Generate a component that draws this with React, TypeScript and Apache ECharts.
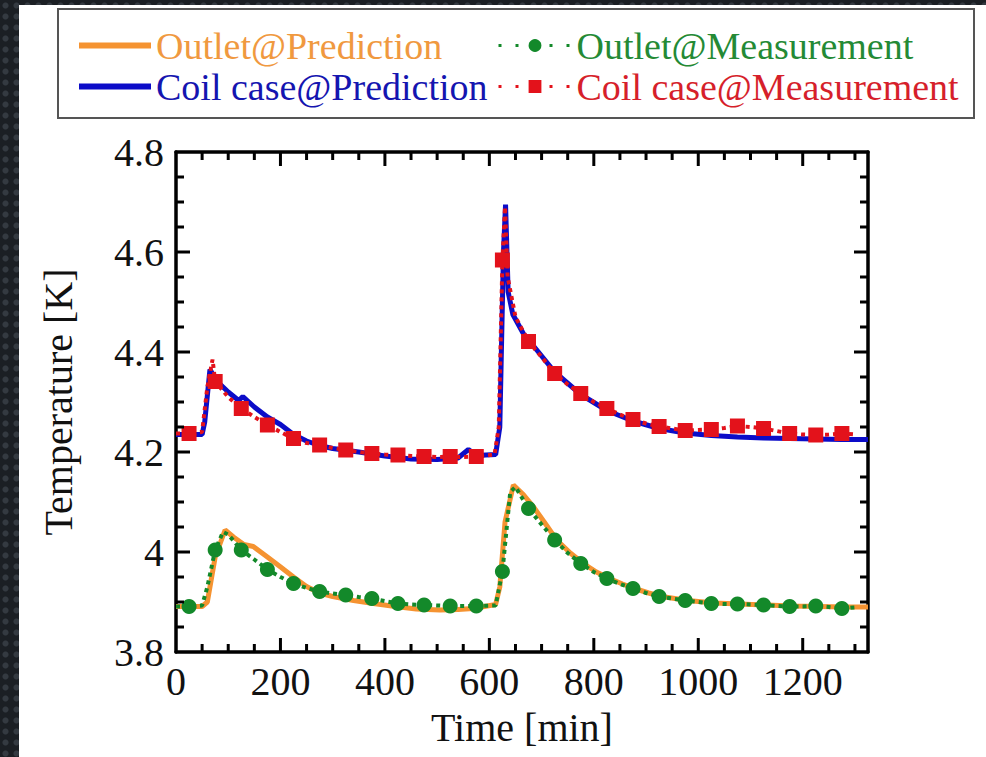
import React, { useEffect, useRef } from "react";
import * as echarts from "echarts";

// ---------- data ----------
const xTickLabels = [0, 200, 400, 600, 800, 1000, 1200];
const yTickLabels = [3.8, 4.0, 4.2, 4.4, 4.6, 4.8];

const outletPredTime = [0, 50, 60, 75, 94, 110, 130, 148, 175, 199, 225, 250, 275, 300, 340, 378, 420, 460, 505, 540, 569, 612, 620, 630, 646, 665, 684, 705, 729, 755, 780, 805, 830, 855, 878, 905, 930, 980, 1030, 1080, 1130, 1180, 1230, 1280, 1325];
const outletPredTemp = [3.891, 3.891, 3.9, 3.99, 4.044, 4.03, 4.015, 4.011, 3.99, 3.971, 3.95, 3.931, 3.918, 3.911, 3.903, 3.897, 3.891, 3.886, 3.884, 3.885, 3.887, 3.895, 3.93, 4.06, 4.134, 4.115, 4.091, 4.06, 4.024, 3.998, 3.977, 3.96, 3.947, 3.936, 3.927, 3.918, 3.911, 3.903, 3.898, 3.896, 3.894, 3.892, 3.891, 3.89, 3.89];

const coilPredTime = [0, 50, 55, 65, 80, 100, 120, 128, 150, 175, 200, 225, 250, 275, 300, 350, 400, 450, 500, 540, 560, 575, 612, 620, 627, 631, 636, 645, 665, 690, 725, 775, 825, 875, 925, 975, 1025, 1075, 1125, 1175, 1225, 1275, 1325];
const coilPredTemp = [4.235, 4.235, 4.26, 4.365, 4.34, 4.32, 4.303, 4.311, 4.29, 4.27, 4.255, 4.235, 4.222, 4.213, 4.207, 4.2, 4.192, 4.186, 4.185, 4.188, 4.205, 4.193, 4.195, 4.25, 4.6, 4.695, 4.52, 4.475, 4.437, 4.405, 4.36, 4.315, 4.283, 4.262, 4.247, 4.238, 4.233, 4.23, 4.228, 4.227, 4.226, 4.225, 4.225];

// measurement traces (markers drawn at the 50-min sampling points t = 25, 75, ...)
const outletMeasTime = [0, 25, 50, 60, 75, 90, 100, 125, 150, 175, 200, 225, 250, 275, 300, 325, 350, 375, 400, 425, 450, 475, 500, 525, 550, 575, 612, 625, 640, 650, 675, 700, 725, 750, 775, 800, 825, 850, 875, 900, 925, 950, 975, 1000, 1025, 1050, 1075, 1100, 1125, 1150, 1175, 1200, 1225, 1250, 1275, 1300];
const outletMeasTemp = [3.891, 3.891, 3.893, 3.93, 4.004, 4.04, 4.035, 4.004, 3.985, 3.965, 3.95, 3.937, 3.928, 3.921, 3.917, 3.914, 3.91, 3.907, 3.902, 3.897, 3.895, 3.894, 3.893, 3.892, 3.892, 3.892, 3.893, 3.961, 4.12, 4.13, 4.087, 4.055, 4.024, 3.998, 3.977, 3.96, 3.947, 3.936, 3.927, 3.918, 3.911, 3.907, 3.903, 3.9, 3.897, 3.896, 3.896, 3.895, 3.894, 3.892, 3.891, 3.891, 3.892, 3.89, 3.887, 3.889];

const coilMeasTime = [0, 25, 50, 60, 70, 75, 100, 125, 150, 175, 200, 225, 250, 275, 300, 325, 350, 375, 400, 425, 450, 475, 500, 525, 550, 575, 610, 618, 625, 630, 635, 650, 675, 700, 725, 750, 775, 800, 825, 850, 875, 900, 925, 950, 975, 1000, 1025, 1050, 1075, 1100, 1125, 1150, 1175, 1200, 1225, 1250, 1275, 1300];
const coilMeasTemp = [4.237, 4.237, 4.24, 4.33, 4.385, 4.341, 4.31, 4.287, 4.27, 4.254, 4.24, 4.227, 4.218, 4.214, 4.208, 4.204, 4.2, 4.197, 4.195, 4.194, 4.192, 4.191, 4.19, 4.191, 4.19, 4.191, 4.195, 4.25, 4.584, 4.69, 4.55, 4.47, 4.421, 4.39, 4.357, 4.335, 4.317, 4.3, 4.287, 4.275, 4.265, 4.257, 4.251, 4.247, 4.243, 4.244, 4.245, 4.248, 4.252, 4.25, 4.247, 4.242, 4.237, 4.235, 4.234, 4.235, 4.237, 4.235];

const X_MIN = 0;
const X_MAX = 1325;
const X_MAJOR = 200;
const X_MINOR = 50;
const Y_MIN = 3.8;
const Y_MAX = 4.8;
const Y_MAJOR = 0.2;
const Y_MINOR = 0.05;

// ---------- styles ----------
const ORANGE = "#f59331";
const BLUE = "#0c0cc8";
const GREEN = "#13892a";
const RED = "#e3121b";
const FONT = "Liberation Serif";

const GRID = { left: 176, right: 118, top: 152, bottom: 105 };
const MAJOR_LEN = 14;
const MINOR_LEN = 8;

const pair = (t: number[], v: number[]) => t.map((x, i) => [x, v[i]]);
const measData = (t: number[], v: number[]) =>
  t.map((x, i) =>
    x % 50 === 25 ? { value: [x, v[i]] } : { value: [x, v[i]], symbol: "none" }
  );

export default function App() {
  const ref = useRef<HTMLDivElement>(null);

  useEffect(() => {
    document.body.style.margin = "0";
    const chart = echarts.init(ref.current!, null, { renderer: "svg" });

    const frameLine = { show: true, onZero: false, lineStyle: { color: "#000", width: 3.5 } };
    const hidden = { show: false };
    const labelStyle = { fontFamily: FONT, fontSize: 40, color: "#111" };

    const xAxis = (position: string, withLabels: boolean) => ({
      type: "value",
      position,
      min: X_MIN,
      max: X_MAX,
      interval: X_MAJOR,
      axisLine: frameLine,
      axisTick: hidden,
      minorTick: hidden,
      axisLabel: withLabels
        ? { ...labelStyle, margin: 9, showMaxLabel: false, formatter: (v: number) => (xTickLabels.includes(v) ? String(v) : "") }
        : hidden,
      splitLine: hidden,
      ...(withLabels
        ? { name: "Time [min]", nameLocation: "middle", nameGap: 55, nameTextStyle: { ...labelStyle } }
        : {}),
    });
    const yAxis = (position: string, withLabels: boolean) => ({
      type: "value",
      position,
      min: Y_MIN,
      max: Y_MAX,
      interval: Y_MAJOR,
      axisLine: frameLine,
      axisTick: hidden,
      minorTick: hidden,
      axisLabel: withLabels
        ? {
            ...labelStyle,
            margin: 12,
            formatter: (v: number) => {
              const r = Math.round(v * 10) / 10;
              return yTickLabels.some((t) => Math.abs(t - r) < 1e-6) ? String(r) : "";
            },
          }
        : hidden,
      splitLine: hidden,
      ...(withLabels
        ? { name: "Temperature [K]", nameLocation: "middle", nameGap: 98, nameTextStyle: { ...labelStyle } }
        : {}),
    });

    const legendText = { fontFamily: FONT, fontSize: 38, lineHeight: 41 };
    const legendBox = {
      type: "rect",
      shape: { x: 58, y: 9, width: 916, height: 109 },
      style: { fill: "#fff", stroke: "#555", lineWidth: 2 },
      z: -10,
    };

    chart.setOption({
      animation: false,
      backgroundColor: "transparent",
      legend: [
        {
          orient: "vertical",
          left: 79,
          top: 25,
          padding: 0,
          itemGap: 0,
          itemWidth: 72,
          itemHeight: 6,
          textStyle: legendText,
          data: [
            { name: "Outlet@Prediction", icon: "rect", textStyle: { color: "#f0993f" } },
            { name: "Coil case@Prediction", icon: "rect", textStyle: { color: "#1515b0" } },
          ],
        },
        {
          orient: "vertical",
          left: 497,
          top: 25,
          padding: 0,
          itemGap: 0,
          itemWidth: 73,
          itemHeight: 16,
          textStyle: legendText,
          lineStyle: { width: 3, type: [3, 14] },
          data: [
            { name: "Outlet@Measurement", textStyle: { color: "#248a35" } },
            { name: "Coil case@Measurement", textStyle: { color: "#d61f2b" } },
          ],
        },
      ],
      grid: { ...GRID, show: false },
      xAxis: [xAxis("bottom", true), xAxis("top", false)],
      yAxis: [yAxis("left", true), yAxis("right", false)],
      series: [
        {
          name: "Outlet@Prediction",
          type: "line",
          data: pair(outletPredTime, outletPredTemp),
          symbol: "none",
          lineStyle: { color: ORANGE, width: 5 },
          itemStyle: { color: ORANGE },
          z: 2,
        },
        {
          name: "Coil case@Prediction",
          type: "line",
          data: pair(coilPredTime, coilPredTemp),
          symbol: "none",
          lineStyle: { color: BLUE, width: 5 },
          itemStyle: { color: BLUE },
          z: 2,
        },
        {
          name: "Outlet@Measurement",
          type: "line",
          data: measData(outletMeasTime, outletMeasTemp),
          symbol: "circle",
          symbolSize: 15,
          showAllSymbol: true,
          lineStyle: { color: GREEN, width: 4, type: [4, 4] },
          itemStyle: { color: GREEN },
          z: 3,
        },
        {
          name: "Coil case@Measurement",
          type: "line",
          data: measData(coilMeasTime, coilMeasTemp),
          symbol: "rect",
          symbolSize: 15,
          showAllSymbol: true,
          lineStyle: { color: RED, width: 4, type: [4, 4] },
          itemStyle: { color: RED },
          z: 3,
        },
      ],
    });

    // inward ticks on all four frame sides, positioned through the axes' own scales
    const toPx = (axis: "x" | "y", v: number): number => {
      const r: any = chart.convertToPixel(axis === "x" ? { xAxisIndex: 0 } : { yAxisIndex: 0 }, v);
      return Array.isArray(r) ? r[axis === "x" ? 0 : 1] : Number(r);
    };
    const left = toPx("x", X_MIN);
    const right = toPx("x", X_MAX);
    const top = toPx("y", Y_MAX);
    const bottom = toPx("y", Y_MIN);
    const tickStyle = { stroke: "#000", lineWidth: 3 };
    const ticks: any[] = [];
    if ([left, right, top, bottom].every((n) => Number.isFinite(n))) {
      const nx = Math.floor((X_MAX - X_MIN) / X_MINOR + 1e-9);
      for (let k = 1; k <= nx; k++) {
        const v = X_MIN + k * X_MINOR;
        if (v >= X_MAX) break;
        const len = k % Math.round(X_MAJOR / X_MINOR) === 0 ? MAJOR_LEN : MINOR_LEN;
        const x = toPx("x", v);
        ticks.push({ type: "line", shape: { x1: x, y1: bottom, x2: x, y2: bottom - len }, style: tickStyle, silent: true, z: 100 });
        ticks.push({ type: "line", shape: { x1: x, y1: top, x2: x, y2: top + len }, style: tickStyle, silent: true, z: 100 });
      }
      const ny = Math.round((Y_MAX - Y_MIN) / Y_MINOR);
      for (let k = 1; k < ny; k++) {
        const v = Y_MIN + k * Y_MINOR;
        const len = k % Math.round(Y_MAJOR / Y_MINOR) === 0 ? MAJOR_LEN : MINOR_LEN;
        const y = toPx("y", v);
        ticks.push({ type: "line", shape: { x1: left, y1: y, x2: left + len, y2: y }, style: tickStyle, silent: true, z: 100 });
        ticks.push({ type: "line", shape: { x1: right, y1: y, x2: right - len, y2: y }, style: tickStyle, silent: true, z: 100 });
      }
    }
    chart.setOption({ graphic: [legendBox, ...ticks] });

    return () => chart.dispose();
  }, []);

  return (
    <div
      style={{
        position: "relative",
        width: 986,
        height: 757,
        overflow: "hidden",
        backgroundColor: "#1b1f24",
        backgroundImage: "radial-gradient(circle, #343a41 0 2.5px, transparent 3.5px)",
        backgroundSize: "11px 11px",
      }}
    >
      <div style={{ position: "absolute", left: 19, top: 5, right: 0, bottom: 0, background: "#fff" }} />
      <div ref={ref} style={{ position: "absolute", left: 0, top: 0, width: 986, height: 757 }} />
    </div>
  );
}
